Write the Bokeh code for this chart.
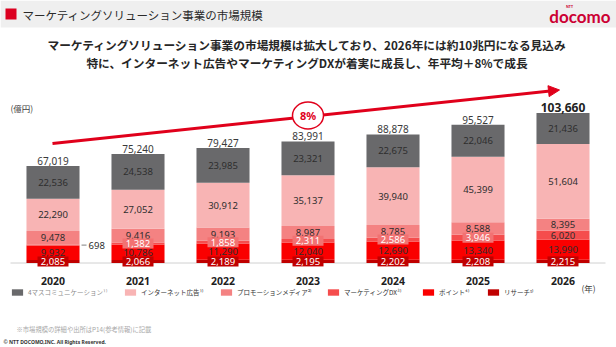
from bokeh.plotting import figure
from bokeh.models import (Range1d, ColumnDataSource, Label, Arrow, NormalHead,
                          Legend, LegendItem, BoxAnnotation)
from bokeh.core.properties import value
from bokeh.embed import file_html
from bokeh.resources import INLINE

# ---------------- data ----------------
years = ["2020", "2021", "2022", "2023", "2024", "2025", "2026"]
mass = [22536, 24538, 23985, 23321, 22675, 22046, 21436]
internet = [22290, 27052, 30912, 35137, 39940, 45399, 51604]
promotion = [9478, 9416, 9193, 8987, 8785, 8588, 8395]
mkt_dx = [698, 1382, 1858, 2311, 2586, 3946, 6020]
point = [9932, 10786, 11290, 12040, 12690, 13340, 13990]
research = [2085, 2066, 2189, 2195, 2202, 2208, 2215]
totals = [67019, 75240, 79427, 83991, 88878, 95527, 103660]
series_labels = ["4マスコミュニケーション¹⁾", "インターネット広告¹⁾", "プロモーションメディア²⁾",
                 "マーケティングDX³⁾", "ポイント⁴⁾", "リサーチ⁵⁾"]
cagr_text = "8%"
title = "マーケティングソリューション事業の市場規模"
headline1 = "マーケティングソリューション事業の市場規模は拡大しており、2026年には約10兆円になる見込み"
headline2 = "特に、インターネット広告やマーケティングDXが着実に成長し、年平均＋8%で成長"
unit_label = "(億円)"
year_unit = "(年)"
footnote = "※市場規模の詳細や出所はP14(参考情報)に記載"
copyright_text = "© NTT DOCOMO,INC.  All Rights Reserved."

# ---------------- layout / style ----------------
W, H = 616, 347
X0_PX, STEP_PX = 52.5, 85.0
BASE_PX = 262.5          # baseline, px from top
UNIT = 691.0             # data units per pixel
BAR_W = 0.624
JP = "Noto Sans CJK JP"
NUM = "Noto Sans"
RED = "#E0001B"
TXT = "#2E2E2E"
colors = {"mass": "#69696B", "internet": "#F8B4B4", "promotion": "#F48282",
          "dx": "#F54D4D", "point": "#FA0000", "research": "#C00000"}
DX_BOX = "#F27272"

def px2x(px):
    return (px - X0_PX) / STEP_PX

def py2y(py):
    return (BASE_PX - py) * UNIT

p = figure(width=W, height=H, x_axis_type=None, y_axis_type=None,
           x_range=Range1d(px2x(0), px2x(W)), y_range=Range1d(py2y(H), py2y(0)),
           output_backend="svg", toolbar_location=None, min_border=0,
           background_fill_color="white", border_fill_color="white")
p.outline_line_color = None
p.grid.visible = False

# header band
p.add_layout(BoxAnnotation(left=0, right=W, top=H, bottom=H - 27,
                           left_units="screen", right_units="screen",
                           top_units="screen", bottom_units="screen",
                           fill_color="#EFEFEF", fill_alpha=1, line_color=None, level="underlay"))
p.add_layout(BoxAnnotation(left=5, right=16, top=H - 8, bottom=H - 19,
                           left_units="screen", right_units="screen",
                           top_units="screen", bottom_units="screen",
                           fill_color="#DC0020", fill_alpha=1, line_color=None))

def lbl(x, y, text, size, color=TXT, font=JP, style="normal", align="left", base="middle"):
    p.add_layout(Label(x=x, y=H - y, x_units="screen", y_units="screen", text=text,
                       text_font=font, text_font_size=f"{size}px", text_color=color,
                       text_font_style=style, text_align=align, text_baseline=base))

lbl(22, 14.5, title, 11.5, color="#2A2A2A")
lbl(610, 16, "docomo", 17, color="#CC0033", font="Lato", style="bold", align="right")
lbl(569, 6, "NTT", 3.5, color="#CC0033", font=NUM, style="bold", align="center")
lbl(307, 44, headline1, 11.7, color="#262626", style="bold", align="center")
lbl(307, 62, headline2, 11.7, color="#262626", style="bold", align="center")
lbl(10, 107, unit_label, 8.5, color="#404040")
lbl(581, 287, year_unit, 8.5, color="#404040")
lbl(16, 329, footnote, 6.3, color="#A8A8A8")
lbl(3, 341, copyright_text, 5, color="#333333", font=NUM, style="bold")

# baseline
p.segment(x0=[px2x(10)], x1=[px2x(605)], y0=[0], y1=[0], line_color="#D0D0D0", line_width=1)

# stacked bars
xs = list(range(len(years)))
src = ColumnDataSource(dict(x=xs, research=research, point=point, dx=mkt_dx,
                            promotion=promotion, internet=internet, mass=mass))
stack_keys = ["research", "point", "dx", "promotion", "internet", "mass"]
rends = p.vbar_stack(stack_keys, x="x", width=BAR_W, source=src,
                     color=[colors[k] for k in stack_keys], line_color=None)
rmap = dict(zip(stack_keys, rends))

# segment labels
series_vals = {"research": research, "point": point, "dx": mkt_dx,
               "promotion": promotion, "internet": internet, "mass": mass}
plain = dict(x=[], y=[], t=[])
boxed = dict(x=[], y=[], t=[], fill=[])
outside = dict(x=[], y=[], t=[])
for i in xs:
    bottom = 0
    for k in stack_keys:
        v = series_vals[k][i]
        c = bottom + v / 2
        t = f"{v:,}"
        if k == "research":
            boxed["x"].append(i); boxed["y"].append(c); boxed["t"].append(t); boxed["fill"].append(colors["research"])
        elif k == "dx" and v < 1000:
            outside["x"].append(i); outside["y"].append(c); outside["t"].append(t)
        elif k == "dx" and v < 5000:
            boxed["x"].append(i); boxed["y"].append(c); boxed["t"].append(t); boxed["fill"].append(DX_BOX)
        else:
            plain["x"].append(i); plain["y"].append(c); plain["t"].append(t)
        bottom += v

p.text(x="x", y="y", text="t", source=ColumnDataSource(plain), text_align="center",
       text_baseline="middle", text_font=value(NUM), text_font_size="9.5px", text_color=TXT)
bsrc = ColumnDataSource(boxed)
p.rect(x="x", y="y", width=31, height=10, width_units="screen", height_units="screen",
       source=bsrc, fill_color="fill", line_color=None)
p.text(x="x", y="y", text="t", source=bsrc, text_align="center", text_baseline="middle",
       text_font=value(NUM), text_font_size="9.5px", text_color="white")
osrc = ColumnDataSource(dict(x0=[x + BAR_W / 2 + 2 / STEP_PX for x in outside["x"]],
                             x1=[x + BAR_W / 2 + 7 / STEP_PX for x in outside["x"]],
                             xt=[x + BAR_W / 2 + 9 / STEP_PX for x in outside["x"]],
                             y=outside["y"], t=outside["t"]))
p.segment(x0="x0", x1="x1", y0="y", y1="y", source=osrc, line_color="#808080", line_width=1)
p.text(x="xt", y="y", text="t", source=osrc, text_align="left", text_baseline="middle",
       text_font=value(NUM), text_font_size="9.5px", text_color=TXT)

# totals
tsrc = ColumnDataSource(dict(x=xs, y=totals, t=[f"{v:,}" for v in totals],
                             size=["10px"] * (len(xs) - 1) + ["12px"],
                             style=["normal"] * (len(xs) - 1) + ["bold"],
                             col=["#3A3A3A"] * (len(xs) - 1) + ["#222222"]))
p.text(x="x", y="y", text="t", source=tsrc, text_align="center", text_baseline="bottom",
       y_offset=-1, text_font=value(NUM), text_font_size="size", text_font_style="style",
       text_color="col")

# year labels
p.text(x=xs, y=[0] * len(xs), text=years, text_align="center", text_baseline="middle",
       y_offset=18, text_font=value(NUM), text_font_size="10.5px", text_font_style="bold",
       text_color="#1E1E1E")

# growth arrow + CAGR badge
p.add_layout(Arrow(x_start=52, y_start=H - 143, x_end=559, y_end=H - 89.5,
                   start_units="screen", end_units="screen", line_color=RED, line_width=3,
                   end=NormalHead(size=11, fill_color=RED, line_color=RED)))
p.ellipse(x=[3], y=[py2y(115)], width=31, height=27, width_units="screen", height_units="screen",
          fill_color="white", line_color=RED, line_width=1.5, level="overlay")
p.text(x=[3], y=[py2y(115)], text=[cagr_text], text_align="center", text_baseline="middle",
       text_font=value(NUM), text_font_size="11px", text_font_style="bold", text_color=RED,
       level="overlay")

# legend (one item each, placed like the original)
legend_order = ["mass", "internet", "promotion", "dx", "point", "research"]
sq_x = [10, 123, 219, 326, 421, 486]
for k, name, lx in zip(legend_order, series_labels, sq_x):
    leg = Legend(items=[LegendItem(label=name, renderers=[rmap[k]])], location=(lx, H - 297),
                 orientation="horizontal", glyph_width=14, glyph_height=8, label_standoff=4,
                 label_height=8, label_text_font=JP, label_text_font_size="6.5px",
                 label_text_color="#8C8C8C" if k == "mass" else "#333333",
                 padding=0, margin=0, border_line_color=None, background_fill_alpha=0)
    p.add_layout(leg)

open("out.html", "w").write(file_html(p, INLINE))
